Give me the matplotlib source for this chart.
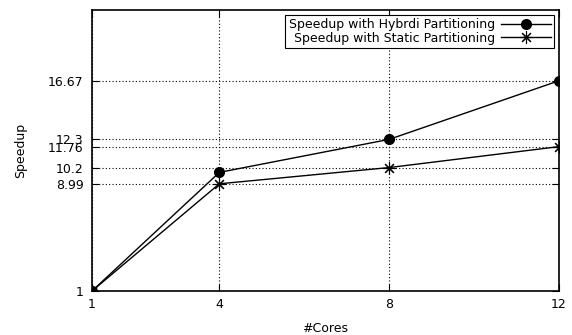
import matplotlib
matplotlib.use('Agg')
import matplotlib.pyplot as plt

cores = [1, 4, 8, 12]
hybrid = [1, 9.84, 12.3, 16.67]
static = [1, 8.99, 10.2, 11.76]
yticks = [1, 8.99, 10.2, 11.76, 12.3, 16.67]
ytick_labels = ['1', '8.99', '10.2', '11.76', '12.3', '16.67']

plt.rcParams['font.family'] = 'DejaVu Sans'
plt.rcParams['font.size'] = 9

fig = plt.figure(figsize=(5.72, 3.35), dpi=100)
ax = fig.add_axes([0.1608, 0.1313, 0.8165, 0.8388])

ax.plot(cores, hybrid, '-', color='black', lw=1, marker='o', ms=7,
        label='Speedup with Hybrdi Partitioning', zorder=3)
ax.plot(cores, static, '-', color='black', lw=1, marker=(8, 2, 0), ms=9, mew=0.8,
        label='Speedup with Static Partitioning', zorder=3)

ax.set_xlim(1, 12)
ax.set_ylim(1, 21.94)
ax.set_xticks(cores)
ax.set_yticks(yticks)
ax.set_yticklabels(ytick_labels)
ax.tick_params(direction='in', top=True, right=True, length=5, width=0.8)
ax.tick_params(axis='y', pad=6)
ax.tick_params(axis='x', pad=5)
ax.grid(True, ls=(0, (1, 2)), color='black', lw=0.8)
ax.set_axisbelow(True)
for s in ax.spines.values():
    s.set_linewidth(1.2)

ax.set_xlabel('#Cores', labelpad=8)
ax.set_ylabel('Speedup', labelpad=15)

leg = ax.legend(loc='upper right', markerfirst=False, fancybox=False, framealpha=1,
                edgecolor='black', borderpad=0.25, labelspacing=0.05, handlelength=4,
                handletextpad=0.5, borderaxespad=0.4, fontsize=9)
leg.get_frame().set_linewidth(0.8)
for t in leg.get_texts():
    t.set_ha('right')
leg._legend_box.align = 'right'

fig.savefig('out.png', dpi=100)
